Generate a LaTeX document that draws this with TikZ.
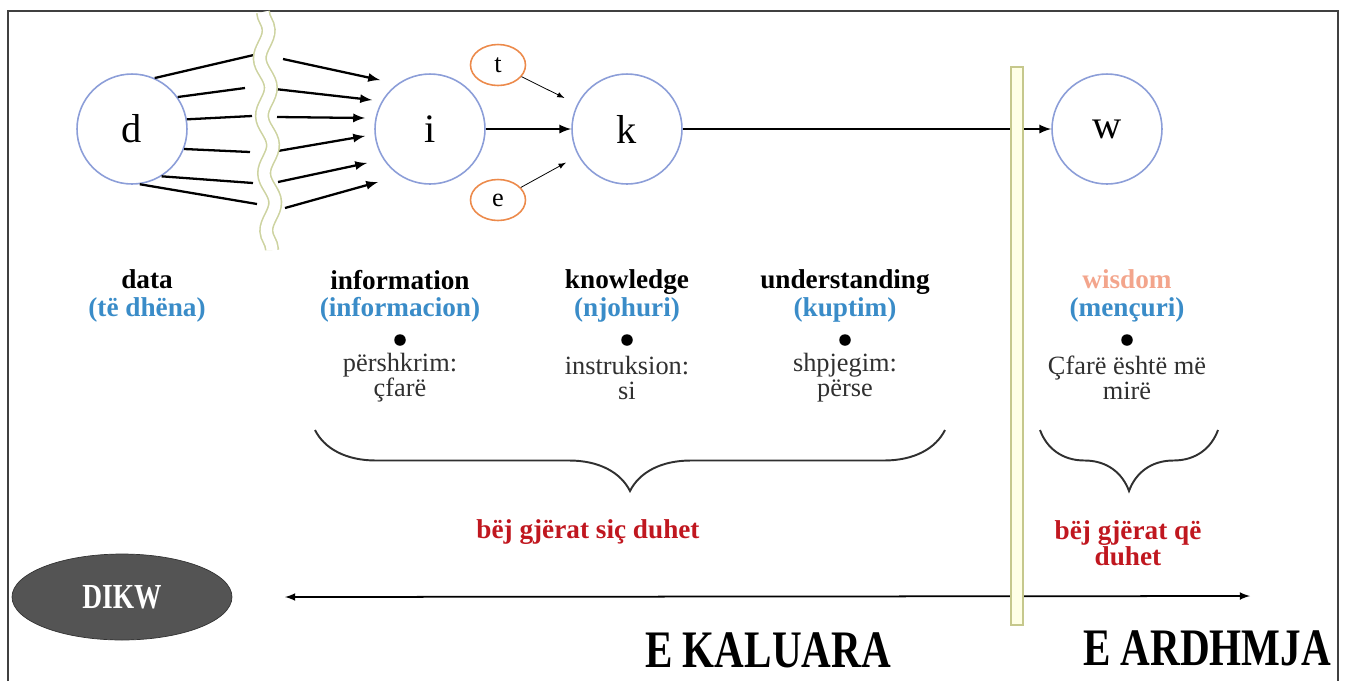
\documentclass[tikz,border=0pt]{standalone}
\usepackage{fontspec}
\setmainfont{Liberation Serif}
\newfontfamily\narrowserif[FakeStretch=0.78]{Liberation Serif}
\usetikzlibrary{positioning,arrows,shapes,decorations.pathmorphing,decorations.pathreplacing}
\definecolor{circblue}{HTML}{8C9ED8}
\definecolor{factorange}{HTML}{EC8A4B}
\definecolor{tagblue}{HTML}{3A8CC8}
\definecolor{wisecol}{HTML}{F3A58C}
\definecolor{dored}{HTML}{C0171F}
\definecolor{wavecol}{HTML}{CDD3A0}
\definecolor{barfill}{HTML}{FFFFE6}
\definecolor{barline}{HTML}{C6C88C}
\definecolor{framecol}{HTML}{404040}
\definecolor{desccol}{HTML}{303030}
\tikzset{
  stage/.style={circle,draw=circblue,line width=0.9pt,minimum size=2.2cm,inner sep=0pt,
    font=\fontsize{23}{24}\selectfont},
  factor/.style={ellipse,draw=factorange,line width=0.9pt,minimum width=1.1cm,minimum height=0.82cm,
    inner sep=0pt,font=\fontsize{15}{16}\selectfont},
  flow/.style={-latex,line width=1.3pt},
  ray/.style={line width=1.3pt},
  thinflow/.style={-latex,line width=0.45pt,shorten >=8pt},
  wave/.style={decorate,decoration={snake,segment length=1.15cm,amplitude=0.1cm},
    draw=wavecol,line width=0.9pt,double=white,double distance=0.22cm},
  divider/.style={draw=barline,fill=barfill,line width=0.8pt,minimum width=0.24cm,
    minimum height=11.16cm,inner sep=0pt},
  title/.style={align=center,font=\bfseries\fontsize{15.5}{15.5}\selectfont},
  desc/.style={align=center,text=desccol,font=\fontsize{15}{14.4}\selectfont},
  dot/.style={circle,fill=black,minimum size=0.23cm,inner sep=0pt},
  curly/.style={decorate,decoration={brace,mirror,amplitude=1.22cm,aspect=0.5},
    line width=1.1pt,draw=desccol},
  todo/.style={align=center,text=dored,font=\bfseries\fontsize{15.5}{14.5}\selectfont},
  badge/.style={ellipse,fill=black!67,draw=black!80,minimum width=4.4cm,minimum height=1.72cm,
    text=white,font=\narrowserif\bfseries\fontsize{20}{22}\selectfont},
  timeline/.style={latex-latex,line width=1pt},
  era/.style={font=\narrowserif\bfseries\fontsize{30}{32}\selectfont},
  frame/.style={draw=framecol,line width=1.2pt}
}

\begin{document}
\begin{tikzpicture}[x=0.02cm,y=-0.02cm]
    \useasboundingbox (0,0) rectangle (1346,681);
    \draw[frame] (8,681) -- (8,11) -- (1338,11) -- (1338,681);

    \node[stage] (d) at (132,129) {d};
    \node[stage] (i) at (430,129) {i};
    \node[stage] (k) at (627,129) {k};
    \node[stage] (w) at (1107,129) {w};
    \node[factor] (t) at (498,65) {t};
    \node[factor] (e) at (498,200) {e};

    \foreach \n/\a/\cx/\cy/\ox/\oy/\ex/\ey in {
      1/66/258/54/283/59/380/80,
      2/35/245/88/275/89/372/100,
      3/10/252/116/277/117/365/118,
      4/-21/250/152/272/152/365/136,
      5/-58/253/183/278/182/367/163,
      6/-82/257/204/285/208/378/182}
    {
      \coordinate (cut\n) at (\cx,\cy);
      \coordinate (out\n) at (\ox,\oy);
      \coordinate (in\n) at (\ex,\ey);
      \draw[ray] (d.\a) -- (cut\n);
      \draw[flow] (out\n) -- (in\n);
    }
    \draw[wave] (263,12) -- (272,250);

    \draw[flow] (i) -- (k);
    \draw[thinflow] (t) -- (k);
    \draw[thinflow] (e) -- (k);
    \draw[flow] (k) -- (w);

    \node[title] (datalbl) at (147,296) {data\\\textcolor{tagblue}{(të dhëna)}};
    \node[title] (infolbl) at (400,296) {information\\\textcolor{tagblue}{(informacion)}};
    \node[title] (knowlbl) at (627,296) {knowledge\\\textcolor{tagblue}{(njohuri)}};
    \node[title] (undlbl) at (845,296) {understanding\\\textcolor{tagblue}{(kuptim)}};
    \node[title] (wislbl) at (1127,296) {\textcolor{wisecol}{wisdom}\\\textcolor{tagblue}{(mençuri)}};

    \node[dot] (infodot) at (400,340) {};
    \node[dot] (knowdot) at (627,340) {};
    \node[dot] (unddot) at (845,340) {};
    \node[dot] (wisdot) at (1127,340) {};

    \node[desc] (infodesc) at (400,378) {përshkrim:\\çfarë};
    \node[desc] (knowdesc) at (627,378) {instruksion:\\si};
    \node[desc] (unddesc) at (845,378) {shpjegim:\\përse};
    \node[desc] (wisdesc) at (1127,378) {Çfarë është më\\mirë};

    \draw[curly] (315,430) -- (945,430);
    \draw[curly] (1040,430) -- (1218,430);
    \node[todo] (howlbl) at (588,532) {bëj gjërat siç duhet};
    \node[todo] (whatlbl) at (1128,543) {bëj gjërat që\\duhet};

    \node[badge] (dikw) at (122,597) {DIKW};
    \coordinate (past) at (285,597);
    \coordinate (future) at (1250,596);
    \draw[timeline] (past) -- (future);

    \node[divider] (bar) at (1017,346) {};

    \node[era] (pastlbl) at (768,650) {E KALUARA};
    \node[era] (futlbl) at (1207,648) {E ARDHMJA};
\end{tikzpicture}
\end{document}
